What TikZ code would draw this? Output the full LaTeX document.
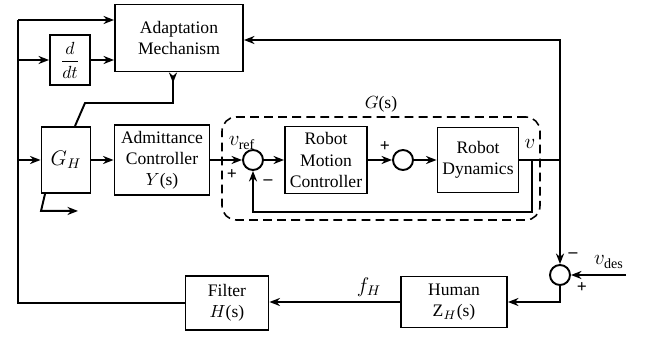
\documentclass[tikz,border=0pt]{standalone}
\usepackage{amsmath}
\usepackage{fontspec}
\setmainfont{Liberation Serif}
\usetikzlibrary{arrows.meta,calc}
\tikzset{
  >={Stealth[length=6pt,width=4.6pt]},
  %% nodes
  blk/.style   = {draw, line width=1.1pt, inner sep=2pt, align=center},
  sumpt/.style = {circle, draw, line width=1.1pt, minimum size=0.4cm, inner sep=0pt},
  gbox/.style  = {draw, dashed, dash pattern=on 5pt off 3pt, line width=0.9pt,
                  rounded corners=8pt, inner sep=0pt},
  %% arrows
  sig/.style   = {->, line width=1.1pt},
  wire/.style  = {-, line width=1.1pt},
  %% annotations
  sgn/.style   = {font=\bfseries, inner sep=0pt},
  mlbl/.style  = {font=\large},
}
\begin{document}
\begin{tikzpicture}[x=0.02cm, y=-0.02cm]
\useasboundingbox (0,0) rectangle (646,337);

%% ---- G(s) region (behind the loop) ----
\node[gbox, minimum width=6.36cm, minimum height=2.06cm] (gs) at (381,168.5) {};
\node[anchor=south, inner sep=2pt] (gslbl) at (gs.north) {$G$(s)};

%% ---- blocks ----
\node[blk, minimum width=2.56cm, minimum height=1.34cm] (adapt)  at (179,38)  {Adaptation\\Mechanism};
\node[blk, minimum width=0.8cm,  minimum height=1cm]    (ddt)    at (70,60)   {$\dfrac{d}{dt}$};
\node[blk, minimum width=0.98cm, minimum height=1.32cm, font=\large] (gh) at (66,160) {$G_H$};
\node[blk, minimum width=1.9cm,  minimum height=1.4cm]  (adm)    at (162,160) {Admittance\\Controller\\$Y$(s)};
\node[blk, minimum width=1.64cm, minimum height=1.34cm] (rmc)    at (326,160) {Robot\\Motion\\Controller};
\node[blk, minimum width=1.62cm, minimum height=1.3cm]  (rd)     at (478,160) {Robot\\Dynamics};
\node[blk, minimum width=2.12cm, minimum height=1.02cm] (human)  at (454,302) {Human\\$\mathrm{Z}_H$(s)};
\node[blk, minimum width=1.66cm, minimum height=1.08cm] (filter) at (227,303) {Filter\\$H$(s)};

%% summing points
\node[sumpt] (s1) at (253,160) {};
\node[sumpt] (s2) at (403,160) {};
\node[sumpt] (s3) at (560,275) {};

%% corner points of the wiring
\coordinate (railtop) at (18,20);
\coordinate (vout)    at (560,160);
\coordinate (vtop)    at (560,40);
\coordinate (fb)      at (532,160);
\coordinate (fbbot)   at (532,212);
\coordinate (knee)    at (85,103);
\coordinate (vdes)    at (626,275);

%% ---- left rail into adaptation / G_H ----
\draw[wire] (filter.west) -| (railtop);
\draw[sig] (railtop) -- (adapt.west |- railtop);
\draw[sig] (ddt.west -| railtop) -- (ddt.west);
\draw[sig] (ddt.east) -- (adapt.west |- ddt.east);
\draw[sig] (gh.west -| railtop) -- (gh.west);

%% adaptation output tunes G_H
\draw[line width=1.1pt, {Stealth[reversed,length=6pt,width=4.6pt]}-]
  ([xshift=-0.12cm]adapt.south) |- (knee) -- ([xshift=0.18cm]gh.north);
\draw[sig] ([xshift=-0.42cm]gh.south) -- ++(-4,17) -- ++(37,0);

%% ---- forward path ----
\draw[sig] (gh.east) -- (adm.west |- gh.east);
\draw[sig] (adm.east) -- (s1.west);
\draw[sig] (s1) -- (rmc);
\draw[sig] (rmc) -- (s2);
\draw[sig] (s2) -- (rd);
\draw[wire] (rd.east) -- (vout);
\draw[sig] (vout) -- (vtop) -- (adapt.east |- vtop);
\draw[sig] (vout) -- (s3.north);
\draw[sig] (fb) -- (fbbot) -| (s1.south);

%% ---- human / filter return ----
\draw[sig] (vdes) -- (s3.east);
\draw[sig] (s3.south) |- (human.east);
\draw[sig] (human.west) -- (filter.east |- human.west);

%% ---- labels ----
\node[mlbl] (vref)    at (242,143) {$v_{\mathrm{ref}}$};
\node[sgn]  (p1)      at (232,175) {+};
\node[sgn]  (m1)      at (268,182) {--};
\node[sgn]  (p2)      at (385,147) {+};
\node[mlbl] (vlbl)    at (530,144) {$v$};
\node[mlbl] (vdeslbl) at (609,262) {$v_{\mathrm{des}}$};
\node[sgn]  (m3)      at (573,255) {--};
\node[sgn]  (p3)      at (582,288) {+};
\node[mlbl] (fh)      at (369,287) {$f_H$};
\end{tikzpicture}
\end{document}
